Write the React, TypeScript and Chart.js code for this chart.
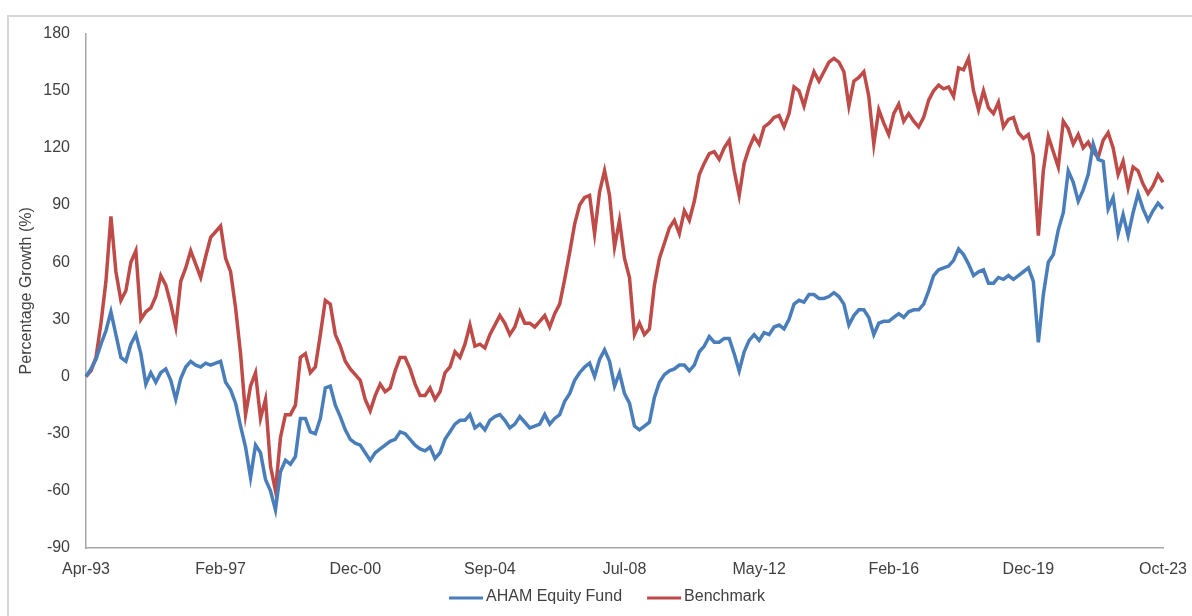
import React, { useEffect, useRef } from "react";
import { Chart, registerables } from "chart.js";

Chart.register(...registerables);

// X-axis tick labels (evenly spaced, 27 samples apart)
const tickLabels = ["Apr-93", "Feb-97", "Dec-00", "Sep-04", "Jul-08", "May-12", "Feb-16", "Dec-19", "Oct-23"];
const samplesPerTick = 27;

// AHAM Equity Fund, percentage growth (%)
const fundValues = [
  0, 4, 9, 17, 24, 34, 22, 10, 8, 17,
  22, 12, -4, 2, -3, 2, 4, -2, -12, -1,
  5, 8, 6, 5, 7, 6, 7, 8, -3, -7,
  -14, -26, -37, -53, -36, -40, -54, -60, -70, -50,
  -44, -46, -42, -22, -22, -29, -30, -22, -6, -5,
  -15, -21, -28, -33, -35, -36, -40, -44, -40, -38,
  -36, -34, -33, -29, -30, -33, -36, -38, -39, -37,
  -43, -40, -33, -29, -25, -23, -23, -20, -27, -25,
  -28, -23, -21, -20, -23, -27, -25, -21, -24, -27,
  -26, -25, -20, -25, -22, -20, -13, -9, -2, 2,
  5, 7, 0, 9, 14, 8, -5, 2, -9, -14,
  -26, -28, -26, -24, -11, -3, 1, 3, 4, 6,
  6, 3, 6, 13, 16, 21, 18, 18, 20, 20,
  12, 3, 13, 19, 22, 19, 23, 22, 26, 27,
  25, 30, 38, 40, 39, 43, 43, 41, 41, 42,
  44, 42, 38, 27, 32, 35, 35, 31, 22, 28,
  29, 29, 31, 33, 31, 34, 35, 35, 38, 45,
  53, 56, 57, 58, 61, 67, 64, 59, 53, 55,
  56, 49, 49, 52, 51, 53, 51, 53, 55, 57,
  50, 18, 43, 60, 64, 77, 86, 108, 102, 92,
  98, 106, 122, 114, 113, 88, 94, 75, 85, 74,
  86, 96, 88, 82, 87, 91, 88,
];

// Benchmark, percentage growth (%)
const benchmarkValues = [
  0, 3, 10, 28, 50, 84, 55, 40, 45, 60,
  66, 30, 34, 36, 42, 53, 48, 38, 26, 50,
  57, 66, 59, 52, 63, 73, 76, 79, 62, 55,
  36, 12, -20, -5, 2, -22, -12, -47, -60, -32,
  -20, -20, -15, 10, 12, 2, 5, 22, 40, 38,
  22, 16, 8, 4, 1, -2, -12, -18, -10, -4,
  -8, -6, 3, 10, 10, 4, -4, -10, -10, -6,
  -12, -8, 2, 5, 13, 10, 17, 27, 16, 17,
  15, 22, 27, 32, 28, 22, 26, 34, 28, 28,
  26, 29, 32, 26, 33, 38, 51, 65, 80, 90,
  94, 95, 75, 97, 108, 95, 68, 82, 62, 52,
  22, 28, 22, 25, 48, 62, 70, 78, 82, 75,
  87, 82, 92, 106, 112, 117, 118, 114, 120, 124,
  108, 95, 112, 120, 126, 122, 131, 133, 136, 137,
  131, 138, 152, 150, 142, 152, 160, 155, 160, 165,
  167, 165, 160, 142, 155, 157, 160, 147, 122, 140,
  133, 127, 138, 143, 134, 138, 134, 131, 136, 145,
  150, 153, 151, 152, 147, 162, 161, 167, 150, 140,
  150, 141, 138, 144, 131, 135, 136, 128, 125, 127,
  116, 74, 108, 126, 118, 110, 134, 130, 122, 127,
  120, 123, 118, 115, 124, 128, 120, 106, 113, 99,
  110, 108, 101, 96, 100, 106, 102,
];

const yMin = -90;
const yMax = 180;
const yStep = 30;

const FONT = "'Liberation Sans', Arial, sans-serif";
const TEXT_COLOR = "#404040";
const AXIS_COLOR = "#A6A6A6";

// Legend drawn on the canvas with real text, spaced like the original
const legendPlugin = {
  id: "lineLegend",
  afterDraw(chart: any) {
    const ctx = chart.ctx;
    const datasets = chart.data.datasets;
    const lineW = 34;
    const textGap = 3;
    const itemGap = 25;
    ctx.save();
    ctx.font = `16px ${FONT}`;
    ctx.textBaseline = "middle";
    ctx.textAlign = "left";
    const widths = datasets.map((ds: any) => lineW + textGap + ctx.measureText(ds.label).width);
    const total = widths.reduce((a: number, b: number) => a + b, 0) + itemGap * (datasets.length - 1);
    let x = chart.width / 2 - total / 2 - 3;
    const y = 590;
    datasets.forEach((ds: any, i: number) => {
      ctx.fillStyle = ds.borderColor;
      ctx.fillRect(x, y - 1.5, lineW, 3);
      ctx.fillStyle = TEXT_COLOR;
      ctx.fillText(ds.label, x + lineW + textGap, y - 1);
      x += widths[i] + itemGap;
    });
    ctx.restore();
  },
};

export default function App() {
  const canvasRef = useRef<HTMLCanvasElement | null>(null);

  useEffect(() => {
    const canvas = canvasRef.current;
    if (!canvas) return;
    const categories = fundValues.map((_, i) =>
      i % samplesPerTick === 0 ? tickLabels[i / samplesPerTick] ?? "" : ""
    );
    const chart = new Chart(canvas, {
      type: "line",
      data: {
        labels: categories,
        datasets: [
          {
            label: "AHAM Equity Fund",
            data: fundValues,
            borderColor: "#4A7EBB",
            backgroundColor: "#4A7EBB",
            borderWidth: 3.5,
            pointRadius: 0,
            tension: 0,
          },
          {
            label: "Benchmark",
            data: benchmarkValues,
            borderColor: "#BE4B48",
            backgroundColor: "#BE4B48",
            borderWidth: 3.5,
            pointRadius: 0,
            tension: 0,
          },
        ],
      },
      options: {
        animation: false,
        responsive: false,
        maintainAspectRatio: false,
        layout: { padding: { top: 25, right: 49, bottom: 37, left: 0 } },
        plugins: {
          tooltip: { enabled: false },
          legend: { display: false },
        },
        scales: {
          x: {
            type: "category",
            offset: false,
            grid: { display: false, drawTicks: false },
            border: { display: true, color: AXIS_COLOR, width: 1.5 },
            ticks: {
              autoSkip: false,
              maxRotation: 0,
              minRotation: 0,
              padding: 12,
              color: TEXT_COLOR,
              font: { family: FONT, size: 16 },
              callback: (_v: any, idx: number) => categories[idx],
            },
            afterFit: (s: any) => {
              s.height = 31;
            },
          },
          y: {
            min: yMin,
            max: yMax,
            grid: { display: false, drawTicks: false },
            border: { display: true, color: AXIS_COLOR, width: 1.5 },
            ticks: {
              stepSize: yStep,
              padding: 16,
              color: TEXT_COLOR,
              font: { family: FONT, size: 16 },
            },
            title: {
              display: true,
              text: "Percentage Growth (%)",
              color: TEXT_COLOR,
              font: { family: FONT, size: 16 },
              padding: { top: 9, bottom: 0 },
            },
            afterFit: (s: any) => {
              s.width = 78;
            },
          },
        },
      },
      plugins: [legendPlugin],
    });
    return () => chart.destroy();
  }, []);

  return (
    <>
      <div
        style={{
          position: "fixed",
          left: 7,
          top: 15,
          width: 1300,
          height: 800,
          border: "2px solid #D6D6D6",
          boxSizing: "border-box",
          background: "#FFFFFF",
        }}
      />
      <div style={{ position: "fixed", left: 8, top: 8, width: 1204, height: 608 }}>
        <canvas ref={canvasRef} width={1204} height={608} style={{ width: 1204, height: 608, display: "block" }} />
      </div>
    </>
  );
}
